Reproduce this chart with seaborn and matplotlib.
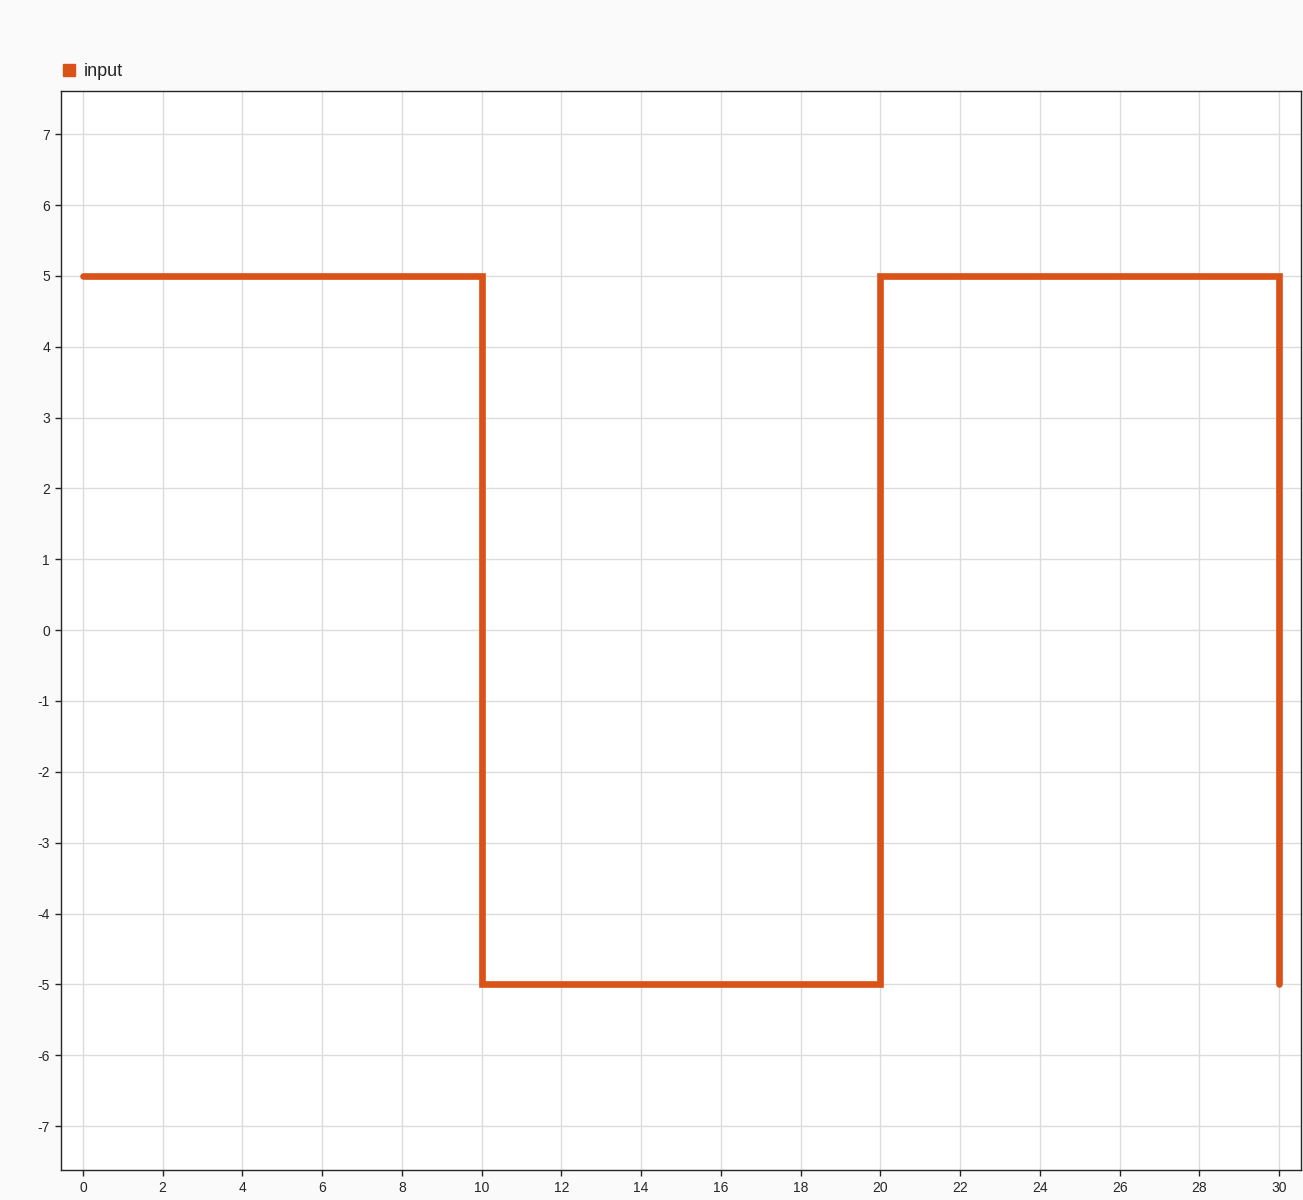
import numpy as np
import pandas as pd
import matplotlib
matplotlib.use("Agg")
import matplotlib.pyplot as plt
import seaborn as sns
from matplotlib.lines import Line2D

# datos de la señal (escalón)
tiempo = [0, 10, 10, 20, 20, 30, 30]
senal = [5, 5, -5, -5, 5, 5, -5]
nombre = "input"
x_ticks = list(range(0, 31, 2))
y_ticks = list(range(-7, 8))

df = pd.DataFrame({"t": tiempo, "valor": senal})

sns.set_theme(style="whitegrid")
plt.rcParams["font.family"] = ["Arial", "Liberation Sans", "DejaVu Sans"]
plt.rcParams["axes.unicode_minus"] = False

fig = plt.figure(figsize=(13.03, 12.0), dpi=100, facecolor="#fafafa")
ax = fig.add_axes([61 / 1303, 1 - 1170 / 1200, 1240 / 1303, 1079 / 1200])
ax.set_facecolor("white")

color = "#D95319"
sns.lineplot(data=df, x="t", y="valor", sort=False, estimator=None, ax=ax,
             color=color, linewidth=4.8, solid_capstyle="round",
             solid_joinstyle="miter", legend=False)

ax.set_xlim(-0.55, 30.55)
ax.set_ylim(-7.62, 7.61)
ax.set_xticks(x_ticks)
ax.set_yticks(y_ticks)
ax.set_xlabel("")
ax.set_ylabel("")
ax.grid(True, color="#dcdcdc", linewidth=1.0)
for s in ax.spines.values():
    s.set_color("#262626")
    s.set_linewidth(1.0)
ax.tick_params(axis="both", labelsize=10, colors="#262626", length=4,
               width=1, direction="out", left=True, bottom=True, pad=4)

handle = Line2D([], [], marker="s", linestyle="none", color=color, markersize=8)
fig.legend([handle], [nombre], loc="lower left",
           bbox_to_anchor=(53 / 1303, 1 - 84 / 1200), frameon=False,
           fontsize=13, handletextpad=0.1, borderaxespad=0, borderpad=0.2,
           handlelength=1.4, labelcolor="#262626")

fig.savefig("out.png", dpi=100, facecolor=fig.get_facecolor())
